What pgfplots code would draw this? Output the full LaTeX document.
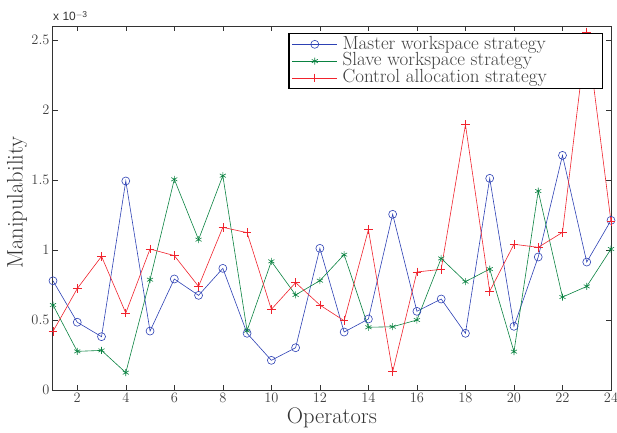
\documentclass[border=0pt]{standalone}
\usepackage{pgfplots}
\pgfplotsset{compat=1.18}
\usepackage{fontspec}
\newfontfamily\helv{Liberation Sans}
\definecolor{mblue}{RGB}{45,65,180}
\definecolor{mgreen}{RGB}{10,130,65}
\definecolor{mred}{RGB}{240,35,45}
\begin{document}
\begin{tikzpicture}
\useasboundingbox (-53pt,-42pt) rectangle (564pt,390pt);
\begin{axis}[
  at={(0pt,0pt)}, anchor=south west,
  scale only axis, width=558pt, height=364pt,
  xmin=1, xmax=24, ymin=0, ymax=2.6,
  xtick={2,4,...,24}, ytick={0,0.5,1,1.5,2,2.5},
  tick align=inside, major tick length=5pt,
  axis line style={line width=1pt, black!80},
  every tick/.style={black!80, line width=0.5pt},
  tick label style={font=\fontsize{14.5}{16}\selectfont, text=black!75},
  xlabel={Operators}, ylabel={Manipulability},
  label style={font=\fontsize{22.5}{24}\selectfont, text=black!80},
  xlabel style={at={(axis description cs:0.5,0)}, anchor=base, yshift=-33pt},
  ylabel style={at={(axis description cs:-0.0645,0.515)}, anchor=center},
  legend style={at={(0.986,0.981)}, anchor=north east, draw=black, line width=1.2pt,
    nodes={inner ysep=0pt, inner xsep=2pt, text height=13.1pt, text depth=3.7pt, font=\fontsize{19}{19}\selectfont, text=black!75},
    inner ysep=2.4pt, inner xsep=3pt, row sep=0pt},
  legend cell align=left,
  legend image code/.code={\draw[#1, line width=0.6pt, mark repeat=2, mark phase=2] plot coordinates {(0pt,0pt)(22.5pt,0pt)(45pt,0pt)};},
  clip=false,
]
\addplot[mblue, line width=0.6pt, mark=o, mark size=4pt, mark options={mblue, line width=0.6pt}] coordinates {
(1,0.780)(2,0.484)(3,0.381)(4,1.493)(5,0.421)(6,0.793)(7,0.676)(8,0.869)(9,0.405)(10,0.212)(11,0.302)(12,1.012)(13,0.414)(14,0.507)(15,1.255)(16,0.562)(17,0.650)(18,0.405)(19,1.512)(20,0.455)(21,0.950)(22,1.676)(23,0.914)(24,1.212)};
\addlegendentry{\makebox[258pt][l]{\hspace{3pt}Master workspace strategy}}
\addplot[mgreen, line width=0.6pt, mark=asterisk, mark size=3.5pt, mark options={mgreen, line width=0.6pt}] coordinates {
(1,0.607)(2,0.276)(3,0.283)(4,0.124)(5,0.788)(6,1.505)(7,1.074)(8,1.531)(9,0.424)(10,0.919)(11,0.679)(12,0.781)(13,0.967)(14,0.448)(15,0.452)(16,0.500)(17,0.940)(18,0.774)(19,0.864)(20,0.274)(21,1.421)(22,0.664)(23,0.740)(24,1.007)};
\addlegendentry{\makebox[258pt][l]{\hspace{3pt}Slave workspace strategy}}
\addplot[color=mred, line width=0.6pt, mark=+, mark size=4.3pt, mark options={mred, line width=0.6pt}] coordinates {
(1,0.419)(2,0.724)(3,0.955)(4,0.550)(5,1.007)(6,0.960)(7,0.740)(8,1.162)(9,1.124)(10,0.576)(11,0.767)(12,0.607)(13,0.495)(14,1.145)(15,0.131)(16,0.843)(17,0.862)(18,1.895)(19,0.705)(20,1.041)(21,1.019)(22,1.126)(23,2.557)(24,1.202)};
\addlegendentry{\makebox[258pt][l]{\hspace{3pt}Control allocation strategy}}
\node[anchor=south west, inner sep=0pt, font=\helv\fontsize{12}{12}\selectfont, text=black!80] at (rel axis cs:0,1) [yshift=5pt] {x 10\raisebox{0.55ex}{\fontsize{8.5}{8.5}\selectfont $-$3}};
\end{axis}
\end{tikzpicture}
\end{document}
